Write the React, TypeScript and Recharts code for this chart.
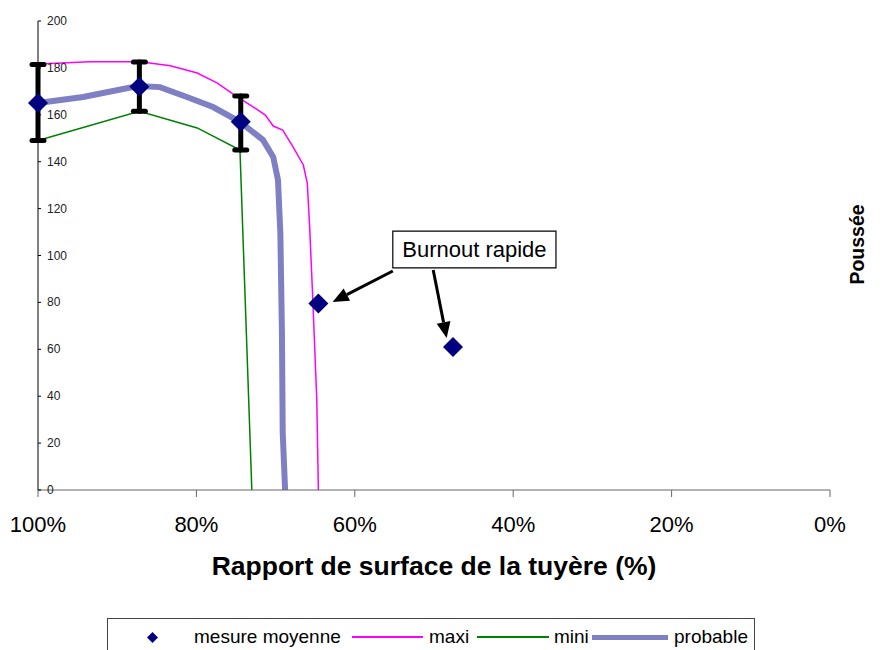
import React from 'react';
import {
  ComposedChart,
  Line,
  Scatter,
  XAxis,
  YAxis,
  ErrorBar,
  ReferenceArea,
  ReferenceLine,
  Legend
} from 'recharts';

const FONT = "'Liberation Sans', Arial, sans-serif";

// mesure moyenne (diamonds) with error bar bounds
const mesureX = [100, 87.2, 74.4, 64.6, 47.6];
const mesureY = [165, 172, 157, 79.5, 61];
const errLow = [149, 161.5, 145, null, null];
const errHigh = [181.5, 182.5, 168, null, null];

// maxi curve
const maxiX = [100, 93.4, 87.1, 83.3, 79.9, 77.4, 75.4, 72.8, 71.3, 70.3, 69.1, 67.8, 66.5, 66.0, 65.7, 65.3, 64.8, 64.6];
const maxiY = [181.7, 182.6, 182.6, 180.9, 177.8, 173.6, 168.9, 163.3, 159.9, 155.2, 153.5, 146.3, 138.6, 130.9, 112.2, 81, 38.4, 0];

// mini curve
const miniX = [100, 87.2, 79.9, 74.5, 73.0];
const miniY = [149, 161.5, 154.4, 145, 0];

// probable curve
const probX = [100, 94.3, 87.4, 84.6, 81.2, 77.9, 74.5, 71.6, 70.3, 69.7, 69.4, 69.2, 69.1, 68.8];
const probY = [165, 167.6, 172.3, 171.8, 167.6, 163.3, 157, 149.3, 142, 132.2, 109.6, 67, 24.3, 0];

const xTicks = [100, 80, 60, 40, 20, 0];
const yTicks = [0, 20, 40, 60, 80, 100, 120, 140, 160, 180, 200];

// annotation "Burnout rapide"
const noteText = 'Burnout rapide';
const noteBox = { x1: 55.2, x2: 34.6, y1: 94.7, y2: 110.4 };
const arrows = [
  { from: { x: 55.2, y: 93.4 }, to: { x: 62.8, y: 80.2 } },
  { from: { x: 50.1, y: 93.8 }, to: { x: 48.4, y: 64.8 } }
];

const toPoints = (xs: number[], ys: number[]) => xs.map((x, i) => ({ x, y: ys[i] }));

const mesureData = mesureX.map((x, i) => {
  const lo = errLow[i];
  const hi = errHigh[i];
  return {
    x,
    y: mesureY[i],
    err: lo == null || hi == null ? undefined : [mesureY[i] - lo, hi - mesureY[i]]
  };
});
const maxiData = toPoints(maxiX, maxiY);
const miniData = toPoints(miniX, miniY);
const probData = toPoints(probX, probY);

const NAVY = '#000080';
const PROB = '#7f80c4';

const Diamond = (p: any) => {
  const { cx, cy } = p;
  if (cx == null || cy == null) return null;
  const r = 10;
  return <polygon points={`${cx},${cy - r} ${cx + r},${cy} ${cx},${cy + r} ${cx - r},${cy}`} fill={NAVY} />;
};

const Arrow = (p: any) => {
  const { x1, y1, x2, y2 } = p;
  if ([x1, y1, x2, y2].some(v => v == null)) return null;
  const ang = Math.atan2(y2 - y1, x2 - x1);
  const len = 16;
  const hw = 7;
  const bx = x2 - len * Math.cos(ang);
  const by = y2 - len * Math.sin(ang);
  const px = -Math.sin(ang) * hw;
  const py = Math.cos(ang) * hw;
  return (
    <g>
      <line x1={x1} y1={y1} x2={bx} y2={by} stroke="#000" strokeWidth={3} />
      <polygon points={`${x2},${y2} ${bx + px},${by + py} ${bx - px},${by - py}`} fill="#000" />
    </g>
  );
};

const legendItems = [
  { name: 'mesure moyenne', kind: 'diamond', color: NAVY, left: 39, textLeft: 86 },
  { name: 'maxi', kind: 'line', color: '#ff00ff', weight: 2, left: 244, width: 71, textLeft: 321 },
  { name: 'mini', kind: 'line', color: '#008000', weight: 2, left: 369, width: 72, textLeft: 446 },
  { name: 'probable', kind: 'line', color: PROB, weight: 5, left: 484, width: 76, textLeft: 566 }
];

const renderLegend = () => (
  <div
    style={{
      position: 'relative',
      width: 648,
      height: 40,
      border: '1px solid #444',
      boxSizing: 'border-box',
      background: '#fff',
      fontFamily: FONT,
      fontSize: 19,
      color: '#000'
    }}
  >
    {legendItems.map(item => (
      <React.Fragment key={item.name}>
        {item.kind === 'diamond' ? (
          <svg style={{ position: 'absolute', left: item.left, top: 13 }} width={11} height={11}>
            <polygon points="5.5,0 11,5.5 5.5,11 0,5.5" fill={item.color} />
          </svg>
        ) : (
          <div
            style={{
              position: 'absolute',
              left: item.left,
              top: 18 - (item.weight as number) / 2,
              width: item.width,
              height: item.weight,
              background: item.color
            }}
          />
        )}
        <div style={{ position: 'absolute', left: item.textLeft, top: 7, lineHeight: '22px', whiteSpace: 'nowrap' }}>
          {item.name}
        </div>
      </React.Fragment>
    ))}
  </div>
);

const YTick = (p: any) => {
  const { x, y, payload } = p;
  return (
    <text x={x} y={y} dy={4} textAnchor="start" fontSize={12} fill="#222" fontFamily={FONT}>
      {payload.value}
    </text>
  );
};

export default function App() {
  return (
    <div style={{ position: 'absolute', left: 0, top: 0, width: 895, height: 650, overflow: 'hidden', background: '#fff' }}>
      <ComposedChart
        width={895}
        height={650}
        margin={{ top: 21, right: 0, left: 38, bottom: 20 }}
        style={{ fontFamily: FONT }}
      >
        <XAxis
          dataKey="x"
          type="number"
          domain={[0, 100]}
          reversed
          ticks={xTicks}
          tickFormatter={(v: number) => `${v}%`}
          tickSize={7}
          tickMargin={19}
          tick={{ fontSize: 22, fill: '#000', fontFamily: FONT }}
          axisLine={{ stroke: '#666' }}
          tickLine={{ stroke: '#666' }}
          height={100}
          label={{
            value: 'Rapport de surface de la tuyère (%)',
            position: 'insideBottom',
            offset: 15,
            fontSize: 26.5,
            fontWeight: 'bold',
            fill: '#000',
            fontFamily: FONT
          }}
        />
        <YAxis
          type="number"
          domain={[0, 200]}
          ticks={yTicks}
          mirror
          tickSize={3}
          tickMargin={6}
          tick={<YTick />}
          axisLine={{ stroke: '#000' }}
          tickLine={{ stroke: '#000' }}
        />
        <YAxis
          yAxisId="r"
          orientation="right"
          domain={[0, 200]}
          width={65}
          tick={false}
          axisLine={false}
          tickLine={false}
          label={{
            value: 'Poussée',
            angle: -90,
            position: 'center',
            dx: -5,
            dy: -11,
            fontSize: 19.5,
            fontWeight: 'bold',
            fill: '#000',
            fontFamily: FONT
          }}
        />
        <Legend verticalAlign="bottom" content={renderLegend} wrapperStyle={{ left: 107, top: 618, width: 648, height: 40 }} />

        <Line data={probData} dataKey="y" type="linear" stroke={PROB} strokeWidth={6} dot={false} isAnimationActive={false} />
        <Line data={maxiData} dataKey="y" type="linear" stroke="#ff00ff" strokeWidth={1.5} dot={false} isAnimationActive={false} />
        <Line data={miniData} dataKey="y" type="linear" stroke="#008000" strokeWidth={1.5} dot={false} isAnimationActive={false} />
        <Scatter data={mesureData} dataKey="y" fill={NAVY} shape={Diamond} isAnimationActive={false}>
          <ErrorBar dataKey="err" direction="y" width={6} strokeWidth={5} stroke="#000" strokeLinecap="round" isAnimationActive={false} />
        </Scatter>

        <ReferenceArea
          x1={noteBox.x1}
          x2={noteBox.x2}
          y1={noteBox.y1}
          y2={noteBox.y2}
          fill="#fff"
          fillOpacity={1}
          stroke="#000"
          strokeWidth={1.2}
          label={{ value: noteText, position: 'center', fontSize: 22, fill: '#000', fontFamily: FONT }}
        />
        {arrows.map((a, i) => (
          <ReferenceLine key={i} segment={[a.from, a.to]} shape={Arrow} />
        ))}
      </ComposedChart>
    </div>
  );
}
